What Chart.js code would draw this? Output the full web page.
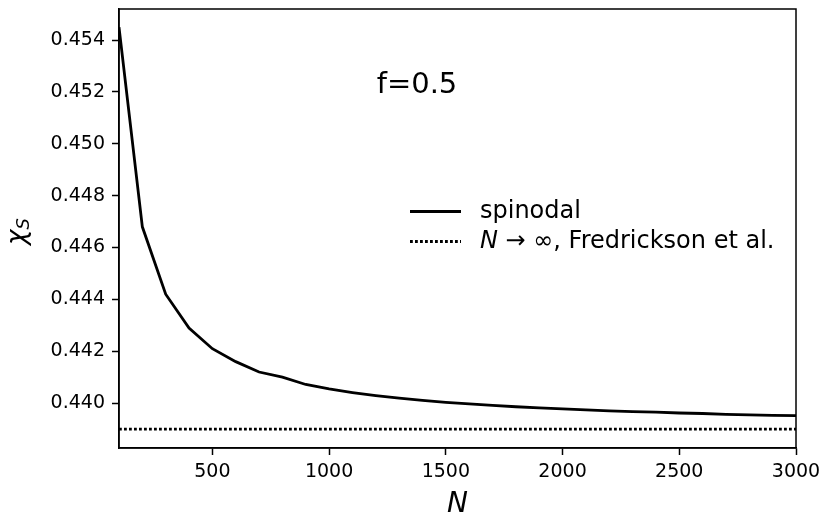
<!DOCTYPE html>
<html>
<head>
<meta charset="utf-8">
<script src="https://cdn.jsdelivr.net/npm/chart.js@4/dist/chart.umd.min.js"></script>
<style>
  body { margin: 0; background: #fff; }
  canvas { display: block; }
</style>
</head>
<body>
<canvas id="myChart" width="824" height="516"></canvas>
<script>
// chain length N and spinodal chi values
var nValues = [100, 200, 300, 400, 500, 600, 700, 800, 900, 1000,
               1100, 1200, 1300, 1400, 1500, 1600, 1700, 1800, 1900, 2000,
               2100, 2200, 2300, 2400, 2500, 2600, 2700, 2800, 2900, 3000];
var chiSpinodal = [0.4545, 0.4468, 0.4442, 0.4429, 0.4421, 0.4416, 0.4412, 0.4410, 0.44072, 0.44055,
                   0.44041, 0.44029, 0.44019, 0.44011, 0.44003, 0.43997, 0.43991, 0.43986, 0.43982, 0.43978,
                   0.43974, 0.43970, 0.43967, 0.43965, 0.43962, 0.43960, 0.43957, 0.43955, 0.43953, 0.43952];
var chiInfinite = 0.4390;
var xTicks = [500, 1000, 1500, 2000, 2500, 3000];
var yTicks = [0.440, 0.442, 0.444, 0.446, 0.448, 0.450, 0.452, 0.454];
var seriesLabels = ['spinodal', 'N \u2192 \u221e, Fredrickson et al.'];

var FONT = '"DejaVu Sans", sans-serif';

var spinodalPoints = nValues.map(function (n, i) { return { x: n, y: chiSpinodal[i] }; });
var limitPoints = [{ x: nValues[0], y: chiInfinite }, { x: nValues[nValues.length - 1], y: chiInfinite }];

// frame, legend and text labels drawn by hand (matplotlib style)
var extras = {
    id: 'extras',
    beforeDraw: function (chart) {
        var c = chart.ctx;
        c.save();
        c.fillStyle = '#fff';
        c.fillRect(0, 0, chart.width, chart.height);
        c.restore();
    },
    afterDraw: function (chart) {
        var c = chart.ctx;
        var a = chart.chartArea;
        c.save();
        c.strokeStyle = '#000';
        c.lineWidth = 1.5;
        c.strokeRect(a.left, a.top, a.right - a.left, a.bottom - a.top);

        c.fillStyle = '#000';
        c.textBaseline = 'alphabetic';

        // f=0.5
        c.font = '29px ' + FONT;
        c.textAlign = 'center';
        c.fillText('f=0.5', 417, 93);

        // x label
        c.font = 'italic 28px ' + FONT;
        c.fillText('N', (a.left + a.right) / 2, 512);

        // y label chi_S
        c.save();
        c.translate(25, 245);
        c.rotate(-Math.PI / 2);
        c.textAlign = 'left';
        c.font = 'italic 26px ' + FONT;
        var w = c.measureText('\u03c7').width;
        c.fillText('\u03c7', 0, 0);
        c.font = 'italic 18px ' + FONT;
        c.fillText('S', w, 4);
        c.restore();

        // legend
        var ds = chart.data.datasets;
        var rows = [211.5, 241.5];
        for (var i = 0; i < ds.length; i++) {
            c.beginPath();
            c.lineWidth = ds[i].borderWidth;
            c.setLineDash(ds[i].borderDash || []);
            c.moveTo(410, rows[i]);
            c.lineTo(461, rows[i]);
            c.stroke();
        }
        c.setLineDash([]);
        c.textAlign = 'left';
        c.textBaseline = 'middle';
        c.font = '24px ' + FONT;
        c.fillText(ds[0].label, 480, rows[0]);
        c.font = 'italic 24px ' + FONT;
        c.fillText('N', 480, rows[1]);
        var nw = c.measureText('N').width;
        c.font = '24px ' + FONT;
        c.fillText(ds[1].label.slice(1), 480 + nw, rows[1]);
        c.restore();
    }
};

function noPadding(scale) {
    scale.paddingTop = 0;
    scale.paddingBottom = 0;
    scale.paddingLeft = 0;
    scale.paddingRight = 0;
}

var ctx = document.getElementById('myChart').getContext('2d');
var myChart = new Chart(ctx, {
    type: 'line',
    data: {
        datasets: [{
            label: seriesLabels[0],
            data: spinodalPoints,
            borderColor: '#000',
            borderWidth: 2.8,
            pointRadius: 0,
            fill: false,
            tension: 0
        },
        {
            label: seriesLabels[1],
            data: limitPoints,
            borderColor: '#000',
            borderWidth: 2.8,
            borderDash: [2.8, 2.2],
            pointRadius: 0,
            fill: false
        }]
    },
    options: {
        responsive: false,
        animation: false,
        layout: {
            padding: { top: 9, right: 28, left: 0, bottom: 0 }
        },
        scales: {
            x: {
                type: 'linear',
                min: 100,
                max: 3000,
                afterBuildTicks: function (scale) {
                    scale.ticks = xTicks.map(function (v) { return { value: v }; });
                },
                afterFit: function (scale) { scale.height = 68; noPadding(scale); },
                grid: {
                    drawOnChartArea: false,
                    drawTicks: true,
                    tickLength: 7,
                    tickWidth: 1.5,
                    tickColor: '#000'
                },
                border: { display: true, color: '#000', width: 1.5 },
                ticks: {
                    color: '#000',
                    padding: 6,
                    maxRotation: 0,
                    font: { family: FONT, size: 19 },
                    callback: function (v) { return String(v); }
                }
            },
            y: {
                min: 0.43827,
                max: 0.4552,
                afterBuildTicks: function (scale) {
                    scale.ticks = yTicks.map(function (v) { return { value: v }; });
                },
                afterFit: function (scale) { scale.width = 119; noPadding(scale); },
                grid: {
                    drawOnChartArea: false,
                    drawTicks: true,
                    tickLength: 7,
                    tickWidth: 1.5,
                    tickColor: '#000'
                },
                border: { display: true, color: '#000', width: 1.5 },
                ticks: {
                    color: '#000',
                    padding: 7,
                    font: { family: FONT, size: 19 },
                    callback: function (v) { return v.toFixed(3); }
                }
            }
        },
        plugins: {
            legend: { display: false },
            tooltip: { enabled: false },
            title: { display: false }
        }
    },
    plugins: [extras]
});
</script>
</body>
</html>
